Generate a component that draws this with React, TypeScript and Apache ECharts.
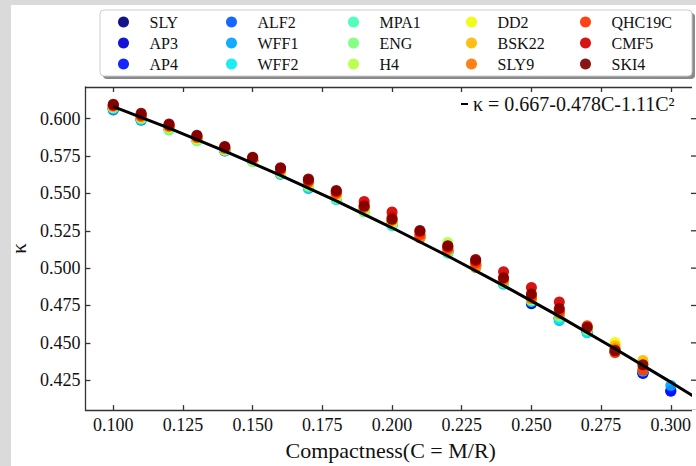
import React, { useEffect, useRef } from "react";
import * as echarts from "echarts";

// ---------- data ----------
const COMPACTNESS = [0.10, 0.11, 0.12, 0.13, 0.14, 0.15, 0.16, 0.17, 0.18, 0.19, 0.20, 0.21, 0.22, 0.23, 0.24, 0.25, 0.26, 0.27, 0.28, 0.29, 0.30];

const EOS_NAMES = ["SLY", "AP3", "AP4", "ALF2", "WFF1", "WFF2", "MPA1", "ENG", "H4", "DD2", "BSK22", "SLY9", "QHC19C", "CMF5", "SKI4"];
const EOS_COLORS = ["#000080", "#0000d2", "#0012ff", "#005bff", "#00a4ff", "#06edf1", "#41ffb6", "#7bff7b", "#b6ff41", "#f1fc06", "#ffb900", "#ff7500", "#ff3200", "#d20000", "#800000"];

const SLY = [0.6072, 0.6004, 0.5940, 0.5866, 0.5792, 0.5722, 0.5645, 0.5560, 0.5480, 0.5392, 0.5305, 0.5215, 0.5120, 0.5025, 0.4910, 0.4762, 0.4668, 0.4580, 0.4440, 0.4300, null];
const AP3 = [0.6070, 0.6000, 0.5937, 0.5864, 0.5790, 0.5720, 0.5642, 0.5556, 0.5476, 0.5388, 0.5300, 0.5212, 0.5116, 0.5020, 0.4906, 0.4768, 0.4665, 0.4576, 0.4445, 0.4298, 0.4180];
const AP4 = [0.6066, 0.5996, 0.5934, 0.5861, 0.5787, 0.5718, 0.5638, 0.5552, 0.5472, 0.5385, 0.5296, 0.5210, 0.5112, 0.5016, 0.4902, 0.4772, 0.4660, 0.4572, 0.4442, 0.4295, 0.4176];
const ALF2 = [0.6058, 0.5989, 0.5930, 0.5858, 0.5783, 0.5716, 0.5630, 0.5545, 0.5468, 0.5382, 0.5292, 0.5208, 0.5108, 0.5012, 0.4898, 0.4778, 0.4670, 0.4585, null, null, null];
const WFF1 = [0.6064, 0.5993, 0.5931, 0.5858, 0.5785, 0.5717, 0.5628, 0.5533, 0.5462, 0.5380, 0.5288, 0.5206, 0.5104, 0.5008, 0.4893, 0.4775, 0.4650, 0.4567, 0.4450, 0.4310, 0.4215];
const WFF2 = [0.6068, 0.5997, 0.5933, 0.5860, 0.5788, 0.5719, 0.5633, 0.5540, 0.5457, 0.5381, 0.5283, 0.5207, 0.5102, 0.5006, 0.4895, 0.4780, 0.4658, 0.4570, 0.4447, 0.4315, null];
const MPA1 = [0.6075, 0.6004, 0.5926, 0.5855, 0.5790, 0.5715, 0.5636, 0.5548, 0.5466, 0.5377, 0.5290, 0.5209, 0.5099, 0.5004, 0.4900, 0.4785, 0.4675, 0.4585, 0.4455, 0.4325, null];
const ENG = [0.6074, 0.6002, 0.5924, 0.5852, 0.5789, 0.5713, 0.5635, 0.5550, 0.5470, 0.5375, 0.5294, 0.5211, 0.5110, 0.5010, 0.4904, 0.4788, 0.4680, 0.4590, 0.4458, 0.4330, null];
const H4 = [0.6080, 0.6010, 0.5938, 0.5862, 0.5793, 0.5720, 0.5640, 0.5558, 0.5478, 0.5386, 0.5302, 0.5214, 0.5171, 0.5020, 0.4912, 0.4790, null, null, null, null, null];
const DD2 = [0.6082, 0.6012, 0.5944, 0.5870, 0.5797, 0.5726, 0.5650, 0.5568, 0.5490, 0.5398, 0.5312, 0.5218, 0.5130, 0.5030, 0.4922, 0.4800, 0.4705, 0.4598, 0.4502, 0.4370, null];
const BSK22 = [0.6083, 0.6013, 0.5946, 0.5872, 0.5799, 0.5728, 0.5653, 0.5572, 0.5494, 0.5402, 0.5316, 0.5210, 0.5126, 0.5015, 0.4918, 0.4798, 0.4700, 0.4596, 0.4480, 0.4382, null];
const SLY9 = [0.6084, 0.6014, 0.5948, 0.5874, 0.5801, 0.5730, 0.5655, 0.5575, 0.5498, 0.5405, 0.5320, 0.5201, 0.5122, 0.5005, 0.4915, 0.4795, 0.4697, 0.4600, 0.4460, null, null];
const QHC19C = [0.6088, 0.6020, 0.5952, 0.5878, 0.5805, 0.5734, 0.5660, 0.5582, 0.5505, 0.5420, 0.5340, 0.5225, 0.5135, 0.5035, 0.4930, 0.4810, 0.4712, 0.4614, 0.4434, 0.4317, null];
const CMF5 = [0.6092, 0.6028, 0.5958, 0.5884, 0.5810, 0.5738, 0.5666, 0.5590, 0.5514, 0.5446, 0.5375, 0.5245, 0.5145, 0.5050, 0.4975, 0.4871, 0.4773, null, null, null, null];
const SKI4 = [0.6096, 0.6036, 0.5965, 0.5889, 0.5814, 0.5742, 0.5672, 0.5596, 0.5520, 0.5414, 0.5327, 0.5251, 0.5149, 0.5058, 0.4936, 0.4827, 0.4730, 0.4605, 0.4448, 0.4354, null];

const EOS_VALUES = [SLY, AP3, AP4, ALF2, WFF1, WFF2, MPA1, ENG, H4, DD2, BSK22, SLY9, QHC19C, CMF5, SKI4];

// fitted curve, as drawn
const FIT_LABEL = "κ = 0.667-0.478C-1.11C²";
const FIT_C = [0.10, 0.12, 0.14, 0.16, 0.18, 0.20, 0.22, 0.24, 0.26, 0.28, 0.30, 0.31];
const FIT_K = [0.6081, 0.5937, 0.5783, 0.5621, 0.5450, 0.5270, 0.5081, 0.4883, 0.4677, 0.4461, 0.4237, 0.4122];

// ticks
const X_TICKS = [0.1, 0.125, 0.15, 0.175, 0.2, 0.225, 0.25, 0.275, 0.3];
const X_TICK_LABELS = ["0.100", "0.125", "0.150", "0.175", "0.200", "0.225", "0.250", "0.275", "0.300"];
const Y_TICKS = [0.425, 0.45, 0.475, 0.5, 0.525, 0.55, 0.575, 0.6];
const Y_TICK_LABELS = ["0.425", "0.450", "0.475", "0.500", "0.525", "0.550", "0.575", "0.600"];

const X_NAME = "Compactness(C = M/R)";
const Y_NAME = "κ";

// ---------- chart ----------
const FONT = "Liberation Serif";
const INK = "#111111";
const SPINE = "#333333";
const X_MIN = 0.09;
const X_MAX = 0.30904;
const Y_MIN = 0.405;
const Y_MAX = 0.6212;

function labelFor(ticks: number[], labels: string[]) {
  return (v: number) => {
    for (let i = 0; i < ticks.length; i++) {
      if (Math.abs(ticks[i] - v) < 1e-9) return labels[i];
    }
    return "";
  };
}

export default function App() {
  const ref = useRef<HTMLDivElement>(null);

  useEffect(() => {
    if (!ref.current) return;
    const chart = echarts.init(ref.current, null, { renderer: "svg" });

    const scatterSeries = EOS_NAMES.map((name, i) => ({
      name,
      type: "scatter",
      xAxisIndex: 0,
      yAxisIndex: 0,
      symbol: "circle",
      symbolSize: 11,
      itemStyle: { color: EOS_COLORS[i], opacity: 0.92 },
      z: 2,
      data: COMPACTNESS.map((c, j) => (EOS_VALUES[i][j] == null ? null : [c, EOS_VALUES[i][j]])).filter((d) => d !== null),
    }));

    const lineSeries = {
      name: FIT_LABEL,
      type: "line",
      xAxisIndex: 0,
      yAxisIndex: 0,
      showSymbol: false,
      symbol: "none",
      lineStyle: { color: "#000000", width: 3 },
      itemStyle: { color: "#000000" },
      z: 5,
      data: FIT_C.map((c, j) => [c, FIT_K[j]]),
    };

    // inward ticks on the right spine, placed through the y scale
    const rightTicks = {
      name: "rightTicks",
      type: "custom",
      xAxisIndex: 0,
      yAxisIndex: 0,
      silent: true,
      clip: false,
      z: 1001,
      data: Y_TICKS.map((v) => [X_MAX, v]),
      renderItem: (params: any, api: any) => {
        const p = api.coord([api.value(0), api.value(1)]);
        return {
          type: "line",
          z2: 10,
          shape: { x1: p[0] - 5, y1: p[1], x2: p[0], y2: p[1] },
          style: { stroke: SPINE, lineWidth: 1.3 },
        };
      },
    };

    const legendCols = [118, 226, 348, 466, 580];
    const legends: any[] = legendCols.map((left, k) => ({
      orient: "vertical",
      left,
      top: 14,
      padding: 0,
      itemGap: 5,
      itemWidth: 42,
      itemHeight: 11,
      icon: "circle",
      selectedMode: false,
      data: EOS_NAMES.slice(k * 3, k * 3 + 3),
      textStyle: { fontFamily: FONT, fontSize: 16, color: INK, lineHeight: 14 },
    }));
    legends.push({
      orient: "horizontal",
      left: 461,
      top: 94,
      padding: 0,
      itemWidth: 7,
      itemHeight: 2,
      icon: "rect",
      selectedMode: false,
      data: [FIT_LABEL],
      textStyle: { fontFamily: FONT, fontSize: 20, color: INK },
    });

    const axisLine = { show: true, onZero: false, lineStyle: { color: SPINE, width: 1.3 } };

    chart.setOption({
      animation: false,
      backgroundColor: "#ffffff",
      textStyle: { fontFamily: FONT },
      graphic: [
        { type: "rect", shape: { x: 0, y: 0, width: 11, height: 466 }, style: { fill: "#dadada" }, silent: true },
        { type: "rect", shape: { x: 0, y: 0, width: 696, height: 5 }, style: { fill: "#dadada" }, silent: true },
        { type: "rect", shape: { x: 103, y: 13, width: 592, height: 66, r: 4 }, style: { fill: "#8a8a8a" }, silent: true },
        { type: "rect", shape: { x: 100, y: 10, width: 592, height: 66, r: 4 }, style: { fill: "#ffffff", stroke: "#cccccc", lineWidth: 1 }, silent: true },
        { type: "rect", z: 1000, shape: { x: 692, y: 80, width: 4, height: 320 }, style: { fill: "#ffffff" }, silent: true },
        { type: "rect", z: 1000, shape: { x: 692, y: 410, width: 4, height: 16 }, style: { fill: "#ffffff" }, silent: true },
      ],
      legend: legends,
      grid: { left: 84, top: 87, width: 613, height: 332, containLabel: false },
      xAxis: [
        {
          type: "value",
          min: X_MIN,
          max: X_MAX,
          position: "bottom",
          splitLine: { show: false },
          axisLine,
          axisTick: { show: true, inside: true, length: 5, customValues: X_TICKS, lineStyle: { color: SPINE, width: 1.3 } },
          axisLabel: { customValues: X_TICKS, formatter: labelFor(X_TICKS, X_TICK_LABELS), fontFamily: FONT, fontSize: 18, color: INK, margin: 6 },
          name: X_NAME,
          nameLocation: "middle",
          nameGap: 22,
          nameTextStyle: { fontFamily: FONT, fontSize: 22, color: INK },
        },
        {
          type: "value",
          min: X_MIN,
          max: X_MAX,
          position: "top",
          splitLine: { show: false },
          axisLine,
          axisTick: { show: true, inside: true, length: 5, customValues: X_TICKS, lineStyle: { color: SPINE, width: 1.3 } },
          axisLabel: { show: false },
        },
      ],
      yAxis: [
        {
          type: "value",
          min: Y_MIN,
          max: Y_MAX,
          position: "left",
          splitLine: { show: false },
          axisLine,
          axisTick: { show: true, inside: true, length: 5, customValues: Y_TICKS, lineStyle: { color: SPINE, width: 1.3 } },
          axisLabel: { customValues: Y_TICKS, formatter: labelFor(Y_TICKS, Y_TICK_LABELS), fontFamily: FONT, fontSize: 18, color: INK, margin: 5 },
          name: Y_NAME,
          nameLocation: "middle",
          nameRotate: 90,
          nameGap: 53,
          nameTextStyle: { fontFamily: FONT, fontSize: 21, color: INK },
        },
      ],
      series: [...scatterSeries, lineSeries, rightTicks],
    });

    return () => chart.dispose();
  }, []);

  return <div ref={ref} style={{ position: "fixed", left: 0, top: 0, width: 696, height: 466 }} />;
}
